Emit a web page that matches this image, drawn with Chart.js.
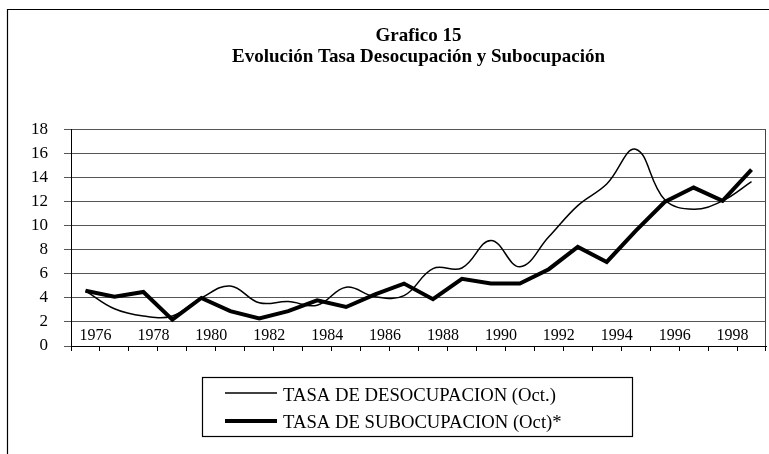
<!DOCTYPE html>
<html><head><meta charset="utf-8">
<script src="https://cdn.jsdelivr.net/npm/chart.js@4"></script>
<style>html,body{margin:0;padding:0;background:#fff}#wrap{width:769px;height:454px;position:relative}</style>
</head><body><div id="wrap"><canvas id="c" width="769" height="454"></canvas></div>
<script>
const years = [1976,1977,1978,1979,1980,1981,1982,1983,1984,1985,1986,1987,1988,1989,1990,1991,1992,1993,1994,1995,1996,1997,1998,1999];
const tickLabels = ['1976','','1978','','1980','','1982','','1984','','1986','','1988','','1990','','1992','','1994','','1996','','1998',''];
const desocupacion = [4.6,3.1,2.5,2.5,4.0,5.0,3.6,3.7,3.4,4.9,4.1,4.2,6.45,6.5,8.8,6.6,9.1,11.7,13.5,16.4,12.2,11.4,12.1,13.7];
const subocupacion = [4.6,4.1,4.5,2.2,4.0,2.9,2.3,2.9,3.8,3.25,4.3,5.2,3.9,5.6,5.2,5.2,6.4,8.25,7.0,9.6,12.0,13.2,12.1,14.7];
const titleLines = ['Grafico 15','Evolución Tasa Desocupación y Subocupación'];
const seriesNames = ['TASA DE DESOCUPACION (Oct.)','TASA DE SUBOCUPACION (Oct)*'];

const FONT = '"Liberation Serif", "Times New Roman", serif';

const framePlugin = {
  id: 'frame',
  beforeDraw(chart) {
    const ctx = chart.ctx;
    ctx.save();
    ctx.fillStyle = '#fff';
    ctx.fillRect(0, 0, chart.width, chart.height);
    ctx.strokeStyle = '#000';
    ctx.lineWidth = 1.2;
    ctx.beginPath();
    ctx.moveTo(7.5, chart.height + 5);
    ctx.lineTo(7.5, 9.5);
    ctx.lineTo(chart.width + 5, 9.5);
    ctx.stroke();
    ctx.restore();
  },
  afterDraw(chart) {
    const ctx = chart.ctx;
    const a = chart.chartArea;
    const xs = chart.scales.x;
    ctx.save();
    // right border of plot area
    ctx.strokeStyle = '#444';
    ctx.lineWidth = 1;
    ctx.beginPath();
    ctx.moveTo(Math.round(a.right) - 0.5, a.top);
    ctx.lineTo(Math.round(a.right) - 0.5, a.bottom);
    ctx.stroke();
    // year labels (drawn inside the plot, just above the axis)
    ctx.fillStyle = '#000';
    ctx.font = '16px ' + FONT;
    ctx.textAlign = 'center';
    ctx.textBaseline = 'middle';
    tickLabels.forEach((t, i) => {
      if (!t) return;
      ctx.fillText(t, xs.getPixelForValue(i) + 10, a.bottom - 10);
    });
    // legend
    const box = {left: 202, top: 377, width: 430, height: 59};
    ctx.strokeStyle = '#000';
    ctx.lineWidth = 1.2;
    ctx.strokeRect(box.left + 0.5, box.top + 0.5, box.width, box.height);
    const rows = [393, 421];
    const baselines = [401, 428];
    chart.data.datasets.forEach((ds, i) => {
      ctx.strokeStyle = ds.borderColor;
      ctx.lineWidth = ds.borderWidth;
      ctx.beginPath();
      ctx.moveTo(box.left + 23, rows[i]);
      ctx.lineTo(box.left + 75, rows[i]);
      ctx.stroke();
      ctx.fillStyle = '#000';
      ctx.font = '18.7px ' + FONT;
      ctx.textBaseline = 'alphabetic';
      ctx.textAlign = 'left';
      ctx.fillText(ds.label, box.left + 81, baselines[i]);
    });
    ctx.restore();
  }
};

new Chart(document.getElementById('c'), {
  type: 'line',
  data: {
    labels: years,
    datasets: [
      {label: seriesNames[0], data: desocupacion, borderColor: '#000', borderWidth: 1.5, pointRadius: 0, tension: 0.4, fill: false},
      {label: seriesNames[1], data: subocupacion, borderColor: '#000', borderWidth: 4, pointRadius: 0, tension: 0, fill: false}
    ]
  },
  options: {
    responsive: false,
    animation: false,
    layout: {padding: {left: 0, right: 3, top: 0, bottom: 88}},
    plugins: {
      legend: {display: false},
      tooltip: {enabled: false},
      title: {
        display: true, fullSize: false, text: titleLines, color: '#000',
        font: {family: FONT, size: 19, weight: 'bold', lineHeight: 1.12},
        padding: {top: 25, bottom: 62.4}
      }
    },
    scales: {
      x: {
        type: 'category', offset: true,
        grid: {offset: true, drawOnChartArea: false, drawTicks: true, tickLength: 5, color: '#000'},
        border: {display: true, color: '#000', width: 1},
        ticks: {display: false, autoSkip: false, maxRotation: 0},
        afterFit: s => { s.height = 20; }
      },
      y: {
        min: 0, max: 18,
        ticks: {stepSize: 2, padding: 16, color: '#000', font: {family: FONT, size: 17}},
        grid: {color: '#555', tickLength: 7, drawTicks: true},
        border: {display: true, color: '#000', width: 1},
        afterFit: s => { s.width = 71; }
      }
    }
  },
  plugins: [framePlugin]
});
</script>
</body></html>
